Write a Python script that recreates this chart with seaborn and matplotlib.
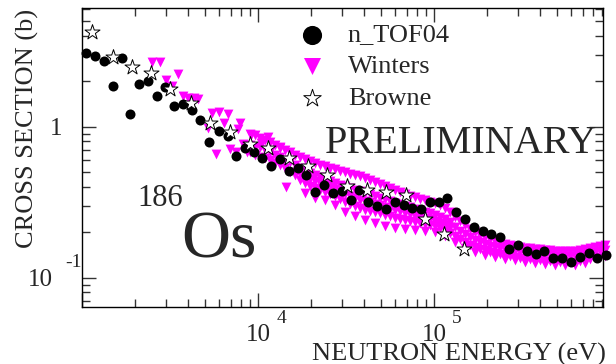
import matplotlib
matplotlib.use('Agg')
import matplotlib.pyplot as plt
import seaborn as sns
import pandas as pd

# n_TOF04 measurement (energy in eV, cross section in b)
ntof_energy = [1050, 1189, 1334, 1494, 1676, 1883, 2108, 2384, 2656, 2977,
               3343, 3750, 4200, 4707, 5284, 5970, 6715, 7500, 8430, 9460,
               10580, 11910, 13310, 14930, 16810, 18800, 21080, 23720, 26660, 29920,
               33500, 37500, 42100, 47200, 53200, 59600, 67000, 75000, 84000, 94600,
               105900, 118900, 133400, 149300, 167500, 188400, 211000, 236000, 265700, 299000,
               336500, 376800, 421700, 474300, 533300, 598000, 673000, 754600, 844000, 948000]
ntof_xs = [3.09, 2.92, 2.72, 1.87, 2.84, 1.21, 1.93, 2.01, 1.59, 1.84,
           1.36, 1.41, 1.28, 1.10, 0.789, 0.932, 0.868, 0.635, 0.723, 0.678,
           0.622, 0.549, 0.609, 0.509, 0.531, 0.479, 0.371, 0.410, 0.362, 0.376,
           0.327, 0.383, 0.318, 0.300, 0.287, 0.317, 0.302, 0.288, 0.285, 0.319,
           0.319, 0.339, 0.274, 0.244, 0.218, 0.204, 0.195, 0.187, 0.155, 0.165,
           0.151, 0.143, 0.150, 0.136, 0.136, 0.128, 0.138, 0.145, 0.136, 0.141]

# Browne
browne_energy = [1140, 1500, 1923, 2479, 3178, 4145, 5335, 6904, 8970, 11430,
                 14900, 19150, 24700, 32040, 41480, 53500, 68900, 88700, 113800, 147500]
browne_xs = [4.26, 2.88, 2.50, 2.28, 1.77, 1.43, 1.06, 0.920, 0.771, 0.717,
             0.616, 0.547, 0.479, 0.406, 0.381, 0.367, 0.355, 0.244, 0.194, 0.155]

# Winters, isolated points at low energy
winters_low_energy = [2506, 2764, 2999, 3236, 3488, 3750, 4000, 4313, 4540, 5224,
                      5458, 5980, 6430, 6760, 5754, 6950, 7470, 7700, 7940, 8220,
                      8590, 9090, 10440, 11400, 13280, 14490]
winters_low_xs = [2.67, 2.67, 2.04, 1.87, 2.23, 1.60, 1.54, 1.54, 1.53, 0.976,
                  1.23, 1.25, 1.05, 1.21, 0.661, 0.706, 0.683, 0.966, 1.05, 0.764,
                  0.683, 0.885, 0.776, 0.858, 0.719, 0.401]

# Winters, dense band: energies and upper / middle / lower values
winters_band_energy = [8970, 9580, 10230, 10920, 11640, 12430, 13270, 14170, 15130, 16160,
                       17250, 18420, 19670, 21000, 22420, 23940, 25530, 27260, 29110, 31080,
                       33190, 35430, 37840, 40400, 43150, 46070, 49200, 52530, 55980, 59770,
                       63830, 68150, 72780, 77700, 82980, 88590, 94620, 101000, 107700, 115000,
                       122800, 131100, 140000, 149500, 159600, 170400, 182000, 194300, 207500, 221500,
                       236000, 252000, 269200, 287400, 306900, 327600, 349900, 373500, 398900, 425900,
                       454000, 484700, 517600, 552600, 590200, 630100, 673000, 718500, 767400, 819300,
                       874800, 933000]
winters_band_top = [0.895, 0.881, 0.842, 0.817, 0.793, 0.757, 0.734, 0.701, 0.680, 0.650,
                    0.630, 0.611, 0.592, 0.574, 0.557, 0.549, 0.532, 0.524, 0.509, 0.502,
                    0.487, 0.479, 0.472, 0.458, 0.444, 0.431, 0.418, 0.405, 0.393, 0.381,
                    0.370, 0.359, 0.348, 0.343, 0.332, 0.327, 0.317, 0.313, 0.303, 0.289,
                    0.273, 0.252, 0.237, 0.223, 0.210, 0.201, 0.192, 0.186, 0.181, 0.175,
                    0.170, 0.167, 0.165, 0.162, 0.160, 0.157, 0.157, 0.155, 0.155, 0.153,
                    0.153, 0.150, 0.150, 0.150, 0.150, 0.150, 0.153, 0.155, 0.157, 0.160,
                    0.162, 0.165]
winters_band_mid = [0.757, 0.734, 0.734, 0.701, 0.680, 0.650, 0.630, 0.601, 0.583, 0.557,
                    0.532, 0.509, 0.494, 0.479, 0.465, 0.451, 0.437, 0.424, 0.411, 0.405,
                    0.393, 0.381, 0.375, 0.364, 0.359, 0.348, 0.337, 0.332, 0.322, 0.313,
                    0.308, 0.298, 0.294, 0.285, 0.281, 0.273, 0.269, 0.260, 0.252, 0.245,
                    0.234, 0.216, 0.204, 0.195, 0.186, 0.178, 0.173, 0.167, 0.162, 0.160,
                    0.157, 0.155, 0.153, 0.150, 0.148, 0.146, 0.146, 0.143, 0.143, 0.141,
                    0.141, 0.139, 0.139, 0.139, 0.139, 0.139, 0.141, 0.143, 0.146, 0.148,
                    0.150, 0.153]
winters_band_low = [0.680, 0.650, 0.630, 0.621, 0.601, 0.574, 0.557, 0.532, 0.502, 0.479,
                    0.444, 0.424, 0.405, 0.393, 0.381, 0.370, 0.359, 0.348, 0.332, 0.317,
                    0.308, 0.298, 0.289, 0.281, 0.277, 0.273, 0.269, 0.260, 0.256, 0.249,
                    0.245, 0.241, 0.237, 0.234, 0.230, 0.227, 0.223, 0.220, 0.213, 0.207,
                    0.198, 0.189, 0.181, 0.173, 0.165, 0.160, 0.155, 0.153, 0.148, 0.146,
                    0.143, 0.141, 0.139, 0.137, 0.135, 0.133, 0.133, 0.131, 0.131, 0.129,
                    0.129, 0.127, 0.127, 0.127, 0.127, 0.127, 0.129, 0.131, 0.133, 0.135,
                    0.137, 0.139]

# Winters, inner points of the thick part of the band
winters_inner_energy = [17250, 18420, 19670, 21000, 22420, 23940, 25530, 27260, 29110, 31080,
                        33190, 35430, 37840, 40400, 43150, 46070, 49200, 52530, 55980, 59770,
                        63830, 68150, 72780, 77700, 82980, 88590, 94620, 101000, 107700, 115000,
                        122800]
winters_inner_xs = [0.486, 0.465, 0.447, 0.434, 0.421, 0.409, 0.396, 0.384, 0.369, 0.358,
                    0.348, 0.337, 0.329, 0.320, 0.315, 0.308, 0.301, 0.294, 0.287, 0.279,
                    0.275, 0.268, 0.264, 0.258, 0.254, 0.249, 0.245, 0.239, 0.232, 0.225,
                    0.215]

# Winters, lowest points of the band
winters_edge_energy = [18420, 21000, 23940, 27260, 31080, 35430, 40400, 46070, 52530, 59770,
                       68150, 77700, 88590, 101000, 115000, 131100, 149500, 170400, 194300, 221500,
                       252000, 287400, 327600, 373500, 425900, 484700, 552600, 630100, 718500]
winters_edge_xs = [0.364, 0.337, 0.327, 0.303, 0.273, 0.256, 0.241, 0.230, 0.220, 0.213,
                   0.210, 0.207, 0.204, 0.201, 0.189, 0.173, 0.157, 0.148, 0.141, 0.137,
                   0.133, 0.131, 0.127, 0.125, 0.123, 0.121, 0.121, 0.121, 0.125]

ntof_df = pd.DataFrame({'energy': ntof_energy, 'xs': ntof_xs})
browne_df = pd.DataFrame({'energy': browne_energy, 'xs': browne_xs})
winters_df = pd.DataFrame({
    'energy': (winters_low_energy + winters_band_energy * 3
               + winters_inner_energy + winters_edge_energy),
    'xs': (winters_low_xs + winters_band_top + winters_band_mid + winters_band_low
           + winters_inner_xs + winters_edge_xs),
})

sns.set_style('ticks')
plt.rcParams['font.family'] = ['Liberation Serif', 'DejaVu Serif']

W, H = 616, 364
fig = plt.figure(figsize=(W / 100, H / 100), dpi=100)
ax = fig.add_axes([82 / W, 57 / H, 521 / W, 299 / H])

sns.scatterplot(data=winters_df, x='energy', y='xs', marker='v', color='#ff00ff',
                s=50, linewidth=0, ax=ax, label='Winters', clip_on=False, zorder=2)
sns.scatterplot(data=ntof_df, x='energy', y='xs', marker='o', color='black',
                s=52, linewidth=0, ax=ax, label='n_TOF04', clip_on=False, zorder=3)
sns.scatterplot(data=browne_df, x='energy', y='xs', marker='*', color='white',
                edgecolor='black', s=130, linewidth=0.7, ax=ax, label='Browne',
                clip_on=False, zorder=4)

ax.set_xscale('log')
ax.set_yscale('log')
ax.set_xlim(1000, 9.08e5)
ax.set_ylim(0.064, 6.1)
ax.set_xlabel('')
ax.set_ylabel('')

for sp in ax.spines.values():
    sp.set_visible(True)
    sp.set_linewidth(1.0)
    sp.set_color('black')
ax.tick_params(which='both', direction='in', top=True, right=True,
               labelbottom=False, labelleft=False, color='#333333', width=1.0)
ax.tick_params(which='major', length=10)
ax.tick_params(which='minor', length=5.5)

# tick labels in the original style
ax.annotate('1', xy=(0, 1), xycoords=ax.get_yaxis_transform(), xytext=(-14.4, -6.1),
            textcoords='offset points', ha='right', va='baseline', fontsize=18)
ax.annotate('10', xy=(0, 0.1), xycoords=ax.get_yaxis_transform(), xytext=(-20.9, -6.1),
            textcoords='offset points', ha='right', va='baseline', fontsize=18)
ax.annotate('-1', xy=(0, 0.1), xycoords=ax.get_yaxis_transform(), xytext=(-12.2, 7.7),
            textcoords='offset points', ha='left', va='baseline', fontsize=14)
for tick, exp in [(1e4, '4'), (1e5, '5')]:
    ax.annotate('10', xy=(tick, 0), xycoords=ax.get_xaxis_transform(), xytext=(0, -24.2),
                textcoords='offset points', ha='center', va='baseline', fontsize=18)
    ax.annotate(exp, xy=(tick, 0), xycoords=ax.get_xaxis_transform(), xytext=(13, -11.7),
                textcoords='offset points', ha='left', va='baseline', fontsize=14)

handles, labels = ax.get_legend_handles_labels()
order = [labels.index(n) for n in ['n_TOF04', 'Winters', 'Browne']]
leg = ax.legend([handles[i] for i in order], [labels[i] for i in order],
                loc='upper left', bbox_to_anchor=(299 / W, 1 - 23 / H),
                bbox_transform=fig.transFigure, frameon=False, fontsize=19,
                handlelength=1.0, handletextpad=0.85, borderpad=0, borderaxespad=0,
                labelspacing=0.32)
for h, size in zip(leg.legend_handles, [190, 150, 175]):
    h.set_sizes([size])

fig.text(27 / W, 1 - 128 / H, 'CROSS SECTION (b)', rotation=90, ha='center',
         va='center', fontsize=19)
fig.text(312 / W, 3 / H, 'NEUTRON ENERGY (eV)', ha='left', va='baseline', fontsize=19)
fig.text(325 / W, (H - 153) / H, 'PRELIMINARY', ha='left', va='baseline', fontsize=29)
fig.text(137 / W, (H - 206) / H, '186', ha='left', va='baseline', fontsize=22)
fig.text(181 / W, (H - 257) / H, 'Os', ha='left', va='baseline', fontsize=49)

fig.savefig('out.png', dpi=100)
